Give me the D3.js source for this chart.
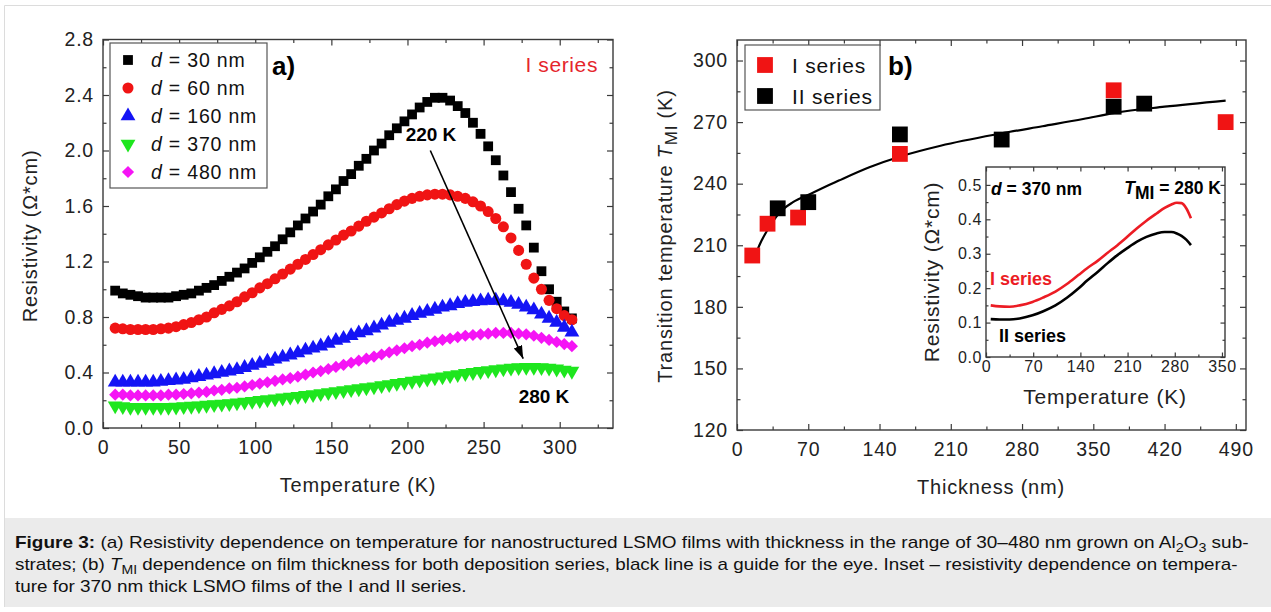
<!DOCTYPE html>
<html><head><meta charset="utf-8">
<script src="https://cdn.jsdelivr.net/npm/d3@7"></script>
<style>
body{margin:0;background:#fff;}
svg{display:block;font-family:"Liberation Sans",Arial,Helvetica,sans-serif;}
</style></head><body>
<svg id="c" width="1271" height="612"></svg>
<script>
// ---------------- DATA ----------------
// Panel a: temperature grid (K) of the measured points
const temps = [8,13,18,23,28,33,38,43,48,53,58,63,68,73,78,83,88,93,98,103,108,113,118,123,128,133,138,143,148,153,158,163,168,173,178,183,188,193,198,203,208,213,218,223,228,233,238,243,248,253,258,263,268,273,278,283,288,293,298,303,308];
// Resistivity (Ohm*cm) for each film thickness (I series)
const rho30 = [0.99,0.97,0.96,0.95,0.94,0.94,0.94,0.94,0.95,0.96,
  0.97,0.99,1.01,1.03,1.06,1.09,1.12,1.15,1.19,1.23,
  1.27,1.31,1.36,1.41,1.46,1.51,1.56,1.61,1.67,1.72,
  1.78,1.83,1.89,1.94,2.00,2.05,2.11,2.16,2.21,2.26,
  2.31,2.35,2.38,2.38,2.36,2.32,2.27,2.20,2.12,2.03,
  1.93,1.82,1.70,1.58,1.46,1.30,1.13,1.00,0.91,0.84,
  0.79];
const rho60 = [0.72,0.715,0.71,0.71,0.71,0.71,0.715,0.72,0.73,0.745,
  0.76,0.78,0.80,0.83,0.855,0.88,0.91,0.945,0.975,1.01,
  1.04,1.075,1.11,1.145,1.18,1.215,1.25,1.285,1.32,1.355,
  1.39,1.42,1.455,1.49,1.52,1.55,1.58,1.61,1.635,1.655,
  1.67,1.68,1.685,1.685,1.68,1.67,1.655,1.63,1.60,1.56,
  1.51,1.45,1.37,1.28,1.18,1.08,1.00,0.92,0.86,0.81,
  0.78];
const rho160 = [0.33,0.33,0.33,0.33,0.33,0.33,0.335,0.34,0.345,0.35,
  0.36,0.37,0.38,0.39,0.40,0.41,0.42,0.435,0.45,0.465,
  0.48,0.495,0.51,0.525,0.54,0.56,0.575,0.59,0.61,0.63,
  0.645,0.665,0.685,0.70,0.72,0.74,0.76,0.775,0.79,0.81,
  0.825,0.84,0.855,0.87,0.88,0.895,0.905,0.91,0.915,0.92,
  0.92,0.915,0.905,0.89,0.87,0.85,0.82,0.79,0.76,0.725,
  0.69];
const rho370 = [0.16,0.155,0.15,0.15,0.15,0.15,0.15,0.15,0.152,0.155,
  0.158,0.161,0.165,0.169,0.173,0.177,0.182,0.187,0.193,0.199,
  0.205,0.211,0.217,0.223,0.229,0.235,0.242,0.249,0.256,0.263,
  0.27,0.277,0.284,0.291,0.298,0.306,0.314,0.322,0.33,0.338,
  0.346,0.354,0.362,0.37,0.378,0.386,0.394,0.401,0.408,0.415,
  0.421,0.427,0.432,0.436,0.438,0.438,0.436,0.432,0.426,0.418,
  0.41];
const rho480 = [0.24,0.24,0.235,0.235,0.235,0.235,0.235,0.24,0.24,0.245,
  0.25,0.255,0.26,0.27,0.275,0.285,0.29,0.30,0.31,0.32,
  0.33,0.34,0.35,0.36,0.37,0.385,0.40,0.41,0.425,0.44,
  0.455,0.47,0.485,0.50,0.515,0.53,0.545,0.56,0.575,0.59,
  0.60,0.615,0.625,0.635,0.645,0.655,0.665,0.67,0.675,0.68,
  0.685,0.685,0.685,0.68,0.675,0.665,0.65,0.635,0.62,0.605,
  0.59];
const thicknessLabels = ["30","60","160","370","480"];
const aXTicks = [0,50,100,150,200,250,300];
const aXMinor = [25,75,125,175,225,275,325];
const aYTicks = [0,0.4,0.8,1.2,1.6,2.0,2.4,2.8];
const aYMinor = [0.2,0.6,1.0,1.4,1.8,2.2,2.6];
const arrowFrom = [215, 2.0];   // (K, Ohm*cm)
const arrowTo = [276, 0.5];

// Panel b: transition temperature vs thickness
const thickI = [15,30,60,160,370,480];
const tmiI   = [205,220.5,223.5,254.5,285.5,270];
const thickII = [40,70,160,260,370,400];
const tmiII   = [228,231,264,261.5,277.5,279];
const guideThick = [17,22,30,42,55,72,100,130,162,200,260,300,340,371,420,480];
const guideTmi   = [203.5,210,217.5,226,231,235,241.5,248,253.5,258.5,264.5,268,271.5,274.5,277.5,280.5];
const bXTicks = [0,70,140,210,280,350,420,490];
const bXMinor = [35,105,175,245,315,385,455];
const bYTicks = [120,150,180,210,240,270,300];
const bYMinor = [135,165,195,225,255,285];
const seriesLabels = ["I series","II series"];

// Inset: 370 nm films
const insetT  = [7,20,35,50,69,85,103,120,137,150,166,180,195,210,224,238,253,265,275,283,290,297,304];
const insetI  = [0.15,0.147,0.146,0.15,0.16,0.173,0.19,0.212,0.238,0.258,0.28,0.302,0.325,0.35,0.374,0.396,0.417,0.433,0.443,0.448,0.447,0.432,0.403];
const insetII = [0.11,0.109,0.109,0.112,0.121,0.133,0.15,0.172,0.199,0.222,0.248,0.272,0.296,0.317,0.335,0.349,0.359,0.363,0.363,0.359,0.352,0.341,0.325];
const iXTicks = [0,70,140,210,280,350];
const iXMinor = [35,105,175,245,315];
const iYTicks = [0,0.1,0.2,0.3,0.4,0.5];
const iYMinor = [0.05,0.15,0.25,0.35,0.45];

// ---------------- DRAWING ----------------
const svg = d3.select("#c");
const FONT = '"Liberation Sans",Arial,Helvetica,sans-serif';
const AXC = "#3a3a3a";

// page frame + caption box
svg.append("rect").attr("x",0).attr("y",0).attr("width",1271).attr("height",612).attr("fill","#fff");
svg.append("line").attr("x1",4.5).attr("x2",1271).attr("y1",5.5).attr("y2",5.5).attr("stroke","#dcdcdc");
svg.append("line").attr("x1",4.5).attr("x2",4.5).attr("y1",5.5).attr("y2",607).attr("stroke","#dcdcdc");
svg.append("rect").attr("x",5).attr("y",518).attr("width",1266).attr("height",89).attr("fill","#ebebeb");

function frame(g, x, y, o) {
  const [x0,x1] = x.range(), [y0,y1] = y.range(); // y0 bottom, y1 top
  const add = (axis, tx, ty) => {
    const s = g.append("g").attr("transform",`translate(${tx},${ty})`).call(axis);
    s.select(".domain").remove();
    s.selectAll("line").attr("stroke",AXC).attr("stroke-width",1.2);
    s.selectAll("text").attr("fill","#222").style("font-family",FONT)
      .style("font-size",o.fs+"px").style("letter-spacing",o.ls+"px");
    return s;
  };
  const M = o.major, m = o.minor;
  add(d3.axisBottom(x).tickValues(o.xt).tickSize(-M).tickPadding(o.xpad).tickFormat(o.xf), 0, y0);
  add(d3.axisBottom(x).tickValues(o.xm).tickSize(-m).tickFormat(""), 0, y0);
  add(d3.axisTop(x).tickValues(o.xt).tickSize(-M).tickFormat(""), 0, y1);
  add(d3.axisTop(x).tickValues(o.xm).tickSize(-m).tickFormat(""), 0, y1);
  add(d3.axisLeft(y).tickValues(o.yt).tickSize(-M).tickPadding(o.ypad).tickFormat(o.yf), x0, 0);
  add(d3.axisLeft(y).tickValues(o.ym).tickSize(-m).tickFormat(""), x0, 0);
  add(d3.axisRight(y).tickValues(o.yt).tickSize(-M).tickFormat(""), x1, 0);
  add(d3.axisRight(y).tickValues(o.ym).tickSize(-m).tickFormat(""), x1, 0);
  g.append("rect").attr("x",x0).attr("y",y1).attr("width",x1-x0).attr("height",y0-y1)
    .attr("fill","none").attr("stroke",AXC).attr("stroke-width",1.4);
}

const symbols = {
  square: {p: d3.symbol().type(d3.symbolSquare).size(96)(), r: 0},
  circle: {p: d3.symbol().type(d3.symbolCircle).size(96)(), r: 0},
  up:     {p: d3.symbol().type(d3.symbolTriangle).size(95)(), r: 0},
  down:   {p: d3.symbol().type(d3.symbolTriangle).size(95)(), r: 180},
  diamond:{p: d3.symbol().type(d3.symbolSquare).size(74)(), r: 45}
};

// ===== Panel a =====
const ga = svg.append("g");
const ax = d3.scaleLinear().domain([0,335]).range([103,613]);
const ay = d3.scaleLinear().domain([0,2.8]).range([428,39.5]);
const seriesA = [
  {vals: rho30, color:"#000000", sym:"square"},
  {vals: rho60, color:"#f01414", sym:"circle"},
  {vals: rho160, color:"#1414f5", sym:"up"},
  {vals: rho370, color:"#1ee61e", sym:"down"},
  {vals: rho480, color:"#f514f5", sym:"diamond"}
];
const plotA = ga.append("g");
seriesA.forEach(s => {
  const S = symbols[s.sym];
  plotA.selectAll(null).data(temps.map((t,i)=>[t,s.vals[i]])).join("path")
    .attr("d", S.p).attr("fill", s.color)
    .attr("transform", d => `translate(${ax(d[0])},${ay(d[1])}) rotate(${S.r})`);
});
frame(ga, ax, ay, {xt:aXTicks, xm:aXMinor, yt:aYTicks, ym:aYMinor, major:6, minor:3.5,
  xf:d3.format("d"), yf:d3.format(".1f"), xpad:12, ypad:9, fs:19.5, ls:0.8});

// arrow
const defs = svg.append("defs");
defs.append("marker").attr("id","ah").attr("markerUnits","userSpaceOnUse")
  .attr("markerWidth",14).attr("markerHeight",10).attr("refX",13).attr("refY",4.5).attr("orient","auto")
  .append("path").attr("d","M0,0 L13,4.5 L0,9 Z").attr("fill","#000");
ga.append("line").attr("x1",ax(arrowFrom[0])).attr("y1",ay(arrowFrom[1]))
  .attr("x2",ax(arrowTo[0])).attr("y2",ay(arrowTo[1]))
  .attr("stroke","#000").attr("stroke-width",1.6).attr("marker-end","url(#ah)");
ga.append("text").attr("x",431).attr("y",141).attr("text-anchor","middle")
  .style("font-size","19px").style("font-weight","bold").text("220 K");
ga.append("text").attr("x",544).attr("y",403).attr("text-anchor","middle")
  .style("font-size","19px").style("font-weight","bold").text("280 K");
ga.append("text").attr("x",272).attr("y",75).style("font-size","26px").style("font-weight","bold").text("a)");
ga.append("text").attr("x",598).attr("y",72).attr("text-anchor","end").attr("fill","#e5262c")
  .style("font-size","21px").style("letter-spacing","0.6px").text("I series");

// legend a
const la = ga.append("g");
la.append("rect").attr("x",110).attr("y",43).attr("width",157).attr("height",145)
  .attr("fill","#fff").attr("stroke","#555").attr("stroke-width",1.2);
seriesA.forEach((s,i) => {
  const yy = 60 + i*28;
  const S = symbols[s.sym];
  la.append("path").attr("d",S.p).attr("fill",s.color)
    .attr("transform",`translate(128,${yy}) rotate(${S.r})`);
  const t = la.append("text").attr("x",151).attr("y",yy+7)
    .style("font-size","19.5px").style("letter-spacing","0.8px").attr("fill","#111");
  t.append("tspan").style("font-style","italic").text("d");
  t.append("tspan").text(` = ${thicknessLabels[i]} nm`);
});

// axis titles a
ga.append("text").attr("x",358).attr("y",492).attr("text-anchor","middle")
  .style("font-size","20px").style("letter-spacing","0.8px").attr("fill","#222").text("Temperature (K)");
ga.append("text").attr("transform","translate(37,236) rotate(-90)").attr("text-anchor","middle")
  .style("font-size","20px").style("letter-spacing","0.8px").attr("fill","#222").text("Resistivity (Ω*cm)");

// ===== Panel b =====
const gb = svg.append("g");
const bx = d3.scaleLinear().domain([0,500]).range([737,1246]);
const by = d3.scaleLinear().domain([120,310]).range([430,40]);
const plotB = gb.append("g");
plotB.append("path").datum(guideThick.map((t,i)=>[t,guideTmi[i]]))
  .attr("d", d3.line().x(d=>bx(d[0])).y(d=>by(d[1])).curve(d3.curveMonotoneX))
  .attr("fill","none").attr("stroke","#000").attr("stroke-width",2.2);
const sq = d3.symbol().type(d3.symbolSquare).size(250)();
plotB.selectAll(null).data(thickI.map((t,i)=>[t,tmiI[i]])).join("path")
  .attr("d",sq).attr("fill","#f01414").attr("transform",d=>`translate(${bx(d[0])},${by(d[1])})`);
plotB.selectAll(null).data(thickII.map((t,i)=>[t,tmiII[i]])).join("path")
  .attr("d",sq).attr("fill","#000").attr("transform",d=>`translate(${bx(d[0])},${by(d[1])})`);
frame(gb, bx, by, {xt:bXTicks, xm:bXMinor, yt:bYTicks, ym:bYMinor, major:6, minor:3.5,
  xf:d3.format("d"), yf:d3.format("d"), xpad:12, ypad:9, fs:19.5, ls:0.8});

// legend b
const lb = gb.append("g");
lb.append("rect").attr("x",745).attr("y",45).attr("width",135).attr("height",65)
  .attr("fill","#fff").attr("stroke","#555").attr("stroke-width",1.2);
[["#f01414",65],["#000",96]].forEach((c,i) => {
  lb.append("path").attr("d",sq).attr("fill",c[0]).attr("transform",`translate(765,${c[1]})`);
  lb.append("text").attr("x",792).attr("y",c[1]+8).style("font-size","21px").style("letter-spacing","0.8px")
    .attr("fill","#111").text(seriesLabels[i]);
});
gb.append("text").attr("x",888).attr("y",75).style("font-size","26px").style("font-weight","bold").text("b)");

gb.append("text").attr("x",991).attr("y",494).attr("text-anchor","middle")
  .style("font-size","20px").style("letter-spacing","0.8px").attr("fill","#222").text("Thickness (nm)");
const byl = gb.append("text").attr("transform","translate(672,236) rotate(-90)").attr("text-anchor","middle")
  .style("font-size","20px").style("letter-spacing","0.8px").attr("fill","#222");
byl.append("tspan").text("Transition temperature ");
byl.append("tspan").style("font-style","italic").text("T");
byl.append("tspan").attr("dy",5).style("font-size","17px").text("MI");
byl.append("tspan").attr("dy",-5).text(" (K)");

// ===== Inset =====
const gi = svg.append("g");
const ix = d3.scaleLinear().domain([0,354.5]).range([986,1225]);
const iy = d3.scaleLinear().domain([0,0.552]).range([357,167]);
gi.append("rect").attr("x",986).attr("y",167).attr("width",239).attr("height",190).attr("fill","#fff");
const iline = d3.line().x(d=>ix(d[0])).y(d=>iy(d[1])).curve(d3.curveMonotoneX);
gi.append("path").datum(insetT.map((t,i)=>[t,insetI[i]])).attr("d",iline)
  .attr("fill","none").attr("stroke","#ec1c24").attr("stroke-width",2.6);
gi.append("path").datum(insetT.map((t,i)=>[t,insetII[i]])).attr("d",iline)
  .attr("fill","none").attr("stroke","#000").attr("stroke-width",2.6);
frame(gi, ix, iy, {xt:iXTicks, xm:iXMinor, yt:iYTicks, ym:iYMinor, major:4.5, minor:2.5,
  xf:d3.format("d"), yf:d3.format(".1f"), xpad:4, ypad:4, fs:16, ls:0.6});
const t1 = gi.append("text").attr("x",991).attr("y",195).style("font-size","17.5px").style("font-weight","bold");
t1.append("tspan").style("font-style","italic").text("d");
t1.append("tspan").text(" = 370 nm");
const t2 = gi.append("text").attr("x",1221).attr("y",194).attr("text-anchor","end").style("font-size","17.5px").style("font-weight","bold");
t2.append("tspan").style("font-style","italic").text("T");
t2.append("tspan").attr("dy",5).text("MI");
t2.append("tspan").attr("dy",-5).text(" = 280 K");
gi.append("text").attr("x",990).attr("y",285).attr("fill","#ec1c24").style("font-size","18px").style("font-weight","bold").text(seriesLabels[0]);
gi.append("text").attr("x",999).attr("y",342).attr("fill","#000").style("font-size","18px").style("font-weight","bold").text(seriesLabels[1]);
gi.append("text").attr("x",1105).attr("y",404).attr("text-anchor","middle")
  .style("font-size","21px").style("letter-spacing","0.8px").attr("fill","#222").text("Temperature (K)");
gi.append("text").attr("transform","translate(939,272) rotate(-90)").attr("text-anchor","middle")
  .style("font-size","21px").style("letter-spacing","0.8px").attr("fill","#222").text("Resistivity (Ω*cm)");

// ===== Caption =====
function capLine(y, target, build) {
  const g = svg.append("g");
  const t = g.append("text").attr("x",0).attr("y",0).style("font-size","16px").attr("fill","#111");
  build(t);
  const w = t.node().getBBox().width;
  g.attr("transform",`translate(15,${y}) scale(${target/w},1)`);
}
capLine(548, 1235, t => {
  t.append("tspan").style("font-weight","bold").text("Figure 3:");
  t.append("tspan").text(" (a) Resistivity dependence on temperature for nanostructured LSMO films with thickness in the range of 30–480 nm grown on Al");
  t.append("tspan").attr("dy",4).style("font-size","12px").text("2");
  t.append("tspan").attr("dy",-4).text("O");
  t.append("tspan").attr("dy",4).style("font-size","12px").text("3");
  t.append("tspan").attr("dy",-4).text(" sub-");
});
capLine(570, 1224, t => {
  t.append("tspan").text("strates; (b) ");
  t.append("tspan").style("font-style","italic").text("T");
  t.append("tspan").attr("dy",4).style("font-size","12px").text("MI");
  t.append("tspan").attr("dy",-4).text(" dependence on film thickness for both deposition series, black line is a guide for the eye. Inset – resistivity dependence on tempera-");
});
capLine(592, 452, t => {
  t.append("tspan").text("ture for 370 nm thick LSMO films of the I and II series.");
});
</script>
</body></html>
